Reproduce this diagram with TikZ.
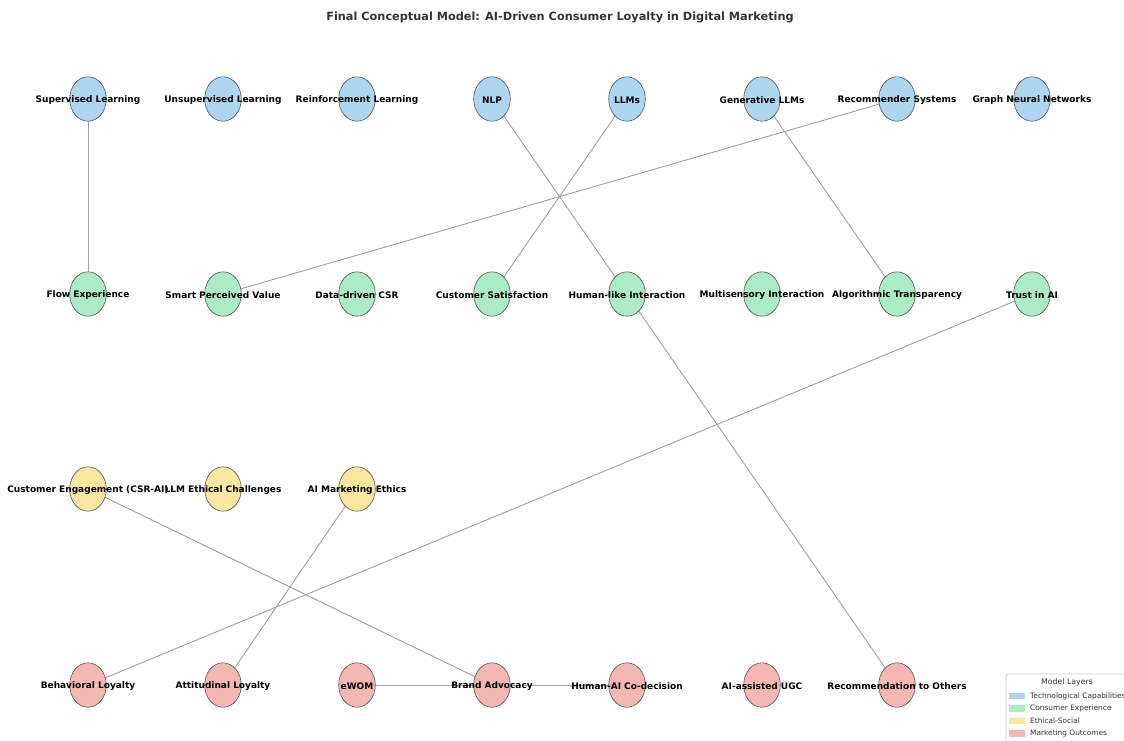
\documentclass[tikz,border=0pt]{standalone}
\usepackage{fontspec}
\setmainfont{DejaVu Sans}
\usetikzlibrary{shapes.geometric}
\definecolor{tech}{HTML}{AED6F1}
\definecolor{cons}{HTML}{ABEBC6}
\definecolor{eth}{HTML}{F9E79F}
\definecolor{mkt}{HTML}{F5B7B1}
\definecolor{edgec}{HTML}{A0A0A0}
\definecolor{bord}{HTML}{555555}
\definecolor{txt}{HTML}{333333}
\tikzset{
  nd/.style={ellipse, draw=bord, line width=0.6pt, minimum width=36.6pt, minimum height=44.4pt, inner sep=0pt},
  lb/.style={font=\bfseries\fontsize{9}{10}\selectfont, text=black, inner sep=0pt, yshift=-1pt},
  ed/.style={draw=edgec, line width=0.9pt},
  lg/.style={font=\fontsize{7.4}{8}\selectfont, text=txt, inner sep=0pt, anchor=west}
}
\begin{document}
\begin{tikzpicture}[x=1pt,y=-1pt]
\useasboundingbox (0,0) rectangle (1124,740);
\clip (0,0) rectangle (1124,740);
\node[font=\bfseries\fontsize{11.3}{13}\selectfont, text=txt] (title) at (560,17) {Final Conceptual Model: AI-Driven Consumer Loyalty in Digital Marketing};
% coordinates of nodes
\foreach \n/\x/\y in {t1/88/99,t2/223/99,t3/357/99,t4/492/99,t5/627/99,t6/762/99,t7/897/99,t8/1032/99,
  c1/88/294,c2/223/294,c3/357/294,c4/492/294,c5/627/294,c6/762/294,c7/897/294,c8/1032/294,
  e1/88/489,e2/223/489,e3/357/489,
  m1/88/685,m2/223/685,m3/357/685,m4/492/685,m5/627/685,m6/762/685,m7/897/685}
  {\coordinate (\n) at (\x,\y);}
% edges (under nodes)
\draw[ed] (t1) -- (c1);
\draw[ed] (t4) -- (c5);
\draw[ed] (t5) -- (c4);
\draw[ed] (t6) -- (c7);
\draw[ed] (t7) -- (c2);
\draw[ed] (c5) -- (m7);
\draw[ed] (c8) -- (m1);
\draw[ed] (e1) -- (m4);
\draw[ed] (e3) -- (m2);
% nodes
\foreach \n in {t1,t2,t3,t4,t5,t6,t7,t8} {\node[nd, fill=tech] (N\n) at (\n) {};}
\foreach \n in {c1,c2,c3,c4,c5,c6,c7,c8} {\node[nd, fill=cons] (N\n) at (\n) {};}
\foreach \n in {e1,e2,e3} {\node[nd, fill=eth] (N\n) at (\n) {};}
\foreach \n in {m1,m2,m3,m4,m5,m6,m7} {\node[nd, fill=mkt] (N\n) at (\n) {};}
% horizontal edge drawn over Brand Advocacy
\draw[ed] (Nm3.east) -- (Nm4) -- (Nm5.west);
% labels
\node[lb] (Lt1) at (t1) {Supervised Learning};
\node[lb] (Lt2) at (t2) {Unsupervised Learning};
\node[lb] (Lt3) at (t3) {Reinforcement Learning};
\node[lb] (Lt4) at (t4) {NLP};
\node[lb] (Lt5) at (t5) {LLMs};
\node[lb] (Lt6) at (t6) {Generative LLMs};
\node[lb] (Lt7) at (t7) {Recommender Systems};
\node[lb] (Lt8) at (t8) {Graph Neural Networks};
\node[lb] (Lc1) at (c1) {Flow Experience};
\node[lb] (Lc2) at (c2) {Smart Perceived Value};
\node[lb] (Lc3) at (c3) {Data-driven CSR};
\node[lb] (Lc4) at (c4) {Customer Satisfaction};
\node[lb] (Lc5) at (c5) {Human-like Interaction};
\node[lb] (Lc6) at (c6) {Multisensory Interaction};
\node[lb] (Lc7) at (c7) {Algorithmic Transparency};
\node[lb] (Lc8) at (c8) {Trust in AI};
\node[lb] (Le1) at (e1) {Customer Engagement (CSR-AI)};
\node[lb] (Le2) at (e2) {LLM Ethical Challenges};
\node[lb] (Le3) at (e3) {AI Marketing Ethics};
\node[lb] (Lm1) at (m1) {Behavioral Loyalty};
\node[lb] (Lm2) at (m2) {Attitudinal Loyalty};
\node[lb] (Lm3) at (m3) {eWOM};
\node[lb] (Lm4) at (m4) {Brand Advocacy};
\node[lb] (Lm5) at (m5) {Human-AI Co-decision};
\node[lb] (Lm6) at (m6) {AI-assisted UGC};
\node[lb] (Lm7) at (m7) {Recommendation to Others};
% legend
\draw[draw=gray!40, fill=white, line width=0.6pt, rounded corners=2pt] (1006,674) rectangle (1140,750);
\node[font=\fontsize{7.8}{9}\selectfont, text=txt] (lgt) at (1067,682) {Model Layers};
\fill[tech] (1009,692.5) rectangle (1025,699);
\fill[cons] (1009,705) rectangle (1025,711.5);
\fill[eth] (1009,717.5) rectangle (1025,724);
\fill[mkt] (1009,730) rectangle (1025,736.5);
\node[lg] (lg1) at (1030,696) {Technological Capabilities};
\node[lg] (lg2) at (1030,708.5) {Consumer Experience};
\node[lg] (lg3) at (1030,721) {Ethical-Social};
\node[lg] (lg4) at (1030,733.5) {Marketing Outcomes};
\end{tikzpicture}
\end{document}
